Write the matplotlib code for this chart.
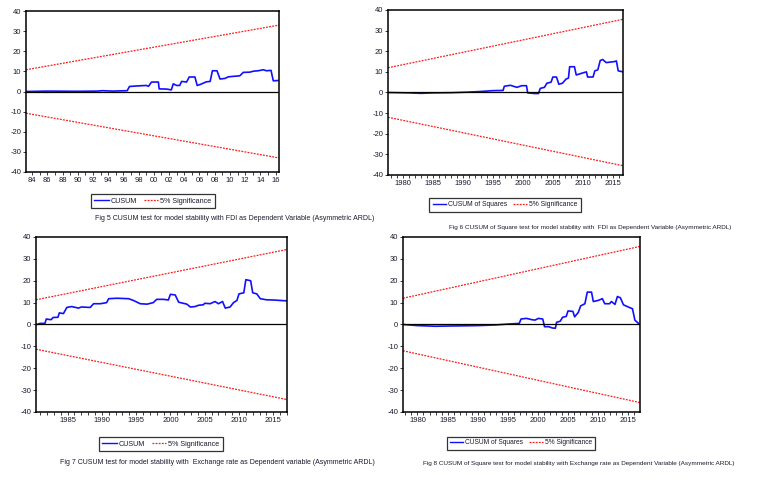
import numpy as np
import matplotlib
matplotlib.use("Agg")
import matplotlib.pyplot as plt
from matplotlib.lines import Line2D
from matplotlib.ticker import MultipleLocator

# --- Fig 5: CUSUM, FDI ---
fig5_years = [1983.2, 1986, 1990, 1992.5, 1993.3, 1994.5, 1996.5, 1996.8, 1998.0, 1999.0,
              1999.3, 1999.7, 2000.6, 2000.7, 2001.7, 2002.3, 2002.55, 2003.0, 2003.4,
              2003.65, 2004.3, 2004.65, 2005.4, 2005.7, 2006.1, 2006.9, 2007.4, 2007.7,
              2008.3, 2008.7, 2009.35, 2009.8, 2011.3, 2011.76, 2012.6, 2013.1, 2013.7,
              2014.4, 2014.8, 2015.4, 2015.7, 2016.5]
fig5_cusum = [0.0, 0.2, 0.1, 0.2, 0.4, 0.2, 0.4, 2.5, 2.8, 3.0,
              2.6, 4.7, 4.7, 1.3, 1.2, 0.8, 3.8, 3.0, 3.0,
              5.0, 4.7, 7.2, 7.2, 3.0, 3.5, 4.8, 5.0, 10.3,
              10.3, 6.2, 6.5, 7.3, 7.8, 9.5, 9.6, 10.1, 10.3,
              10.8, 10.3, 10.5, 5.3, 5.5]
fig5_band = [10.8, 33.0]

# --- Fig 6: CUSUM of Squares, FDI ---
fig6_years = [1977.5, 1981, 1983, 1985, 1988, 1991, 1993, 1995, 1996.7, 1996.9, 1997.9,
              1999.0, 1999.8, 2000.6, 2000.8, 2002.0, 2002.6, 2002.9, 2003.6, 2004.0,
              2004.7, 2005.0, 2005.6, 2006.0, 2006.6, 2007.2, 2007.6, 2007.8, 2008.6,
              2008.9, 2010.0, 2010.6, 2010.8, 2011.7, 2012.0, 2012.5, 2012.9, 2013.3,
              2013.9, 2015.3, 2015.6, 2015.9, 2016.7]
fig6_cusumsq = [0.0, -0.2, -0.4, -0.2, -0.1, 0.2, 0.5, 0.9, 1.0, 3.0, 3.5,
                2.5, 3.3, 3.3, -0.2, -0.5, -0.5, 2.0, 2.5, 4.5,
                5.0, 7.5, 7.5, 4.0, 4.5, 6.5, 7.0, 12.5, 12.5,
                8.5, 9.5, 10.0, 7.5, 7.5, 10.5, 11.0, 15.5, 16.0,
                14.5, 15.0, 15.3, 10.5, 10.0]
fig6_band = [12.0, 35.5]

# --- Fig 7: CUSUM, Exchange rate ---
fig7_years = [1980.5, 1981.0, 1981.7, 1981.9, 1982.6, 1982.9, 1983.6, 1983.8, 1984.4,
              1984.9, 1985.6, 1986.6, 1987.0, 1988.3, 1988.8, 1989.8, 1990.7, 1991.0,
              1992.2, 1993.9, 1994.6, 1995.6, 1996.6, 1997.5, 1998.0, 1999.0, 1999.7,
              2000.0, 2000.7, 2001.2, 2002.4, 2002.9, 2003.6, 2004.1, 2004.8, 2005.0,
              2005.8, 2006.5, 2007.0, 2007.6, 2008.0, 2008.7, 2009.2, 2009.7, 2010.0,
              2010.7, 2011.0, 2011.7, 2012.0, 2012.6, 2013.1, 2014.0, 2015.0, 2016.0, 2017.0]
fig7_cusum = [0.0, 0.5, 0.5, 2.5, 2.2, 3.2, 3.3, 5.3, 5.0,
              7.8, 8.2, 7.5, 8.0, 7.8, 9.5, 9.5, 10.0, 11.8,
              12.0, 11.8, 11.0, 9.5, 9.3, 10.0, 11.5, 11.5, 11.2,
              13.8, 13.5, 10.2, 9.3, 8.0, 8.2, 8.8, 9.0, 9.7,
              9.5, 10.5, 9.5, 10.5, 7.5, 8.0, 10.0, 11.0, 14.0,
              14.5, 20.5, 20.0, 14.5, 14.0, 11.8, 11.3, 11.2, 11.0, 10.8]
fig7_band = [11.3, 34.3]

# --- Fig 8: CUSUM of Squares, Exchange rate ---
fig8_years = [1977.6, 1980, 1983, 1985, 1990, 1993, 1995, 1996.9, 1997.2, 1998.1, 1999.0,
              1999.5, 2000.1, 2000.8, 2001.1, 2001.8, 2002.4, 2002.9, 2003.1, 2003.7,
              2004.1, 2004.7, 2005.0, 2005.8, 2006.1, 2006.7, 2007.1, 2007.8, 2008.2,
              2008.9, 2009.2, 2010.0, 2010.7, 2011.1, 2011.9, 2012.2, 2012.8, 2013.2,
              2013.7, 2014.2, 2015.0, 2015.7, 2016.1, 2016.7, 2016.9]
fig8_cusumsq = [0.0, -0.5, -0.8, -0.7, -0.5, -0.2, 0.2, 0.5, 2.5, 2.8, 2.2,
                2.0, 2.8, 2.5, -1.0, -1.0, -1.6, -1.7, 1.0, 1.5,
                3.3, 3.7, 6.2, 6.0, 3.5, 5.5, 8.5, 9.5, 14.8,
                14.8, 10.5, 11.0, 11.8, 9.5, 9.5, 10.5, 9.2, 12.8,
                12.2, 9.0, 8.0, 7.2, 2.0, 0.5, 0.0]
fig8_band = [12.0, 35.7]

captions = [
    "Fig 5 CUSUM test for model stability with FDI as Dependent Variable (Asymmetric ARDL)",
    "Fig 6 CUSUM of Square test for model stability with  FDI as Dependent Variable (Asymmetric ARDL)",
    "Fig 7 CUSUM test for model stability with  Exchange rate as Dependent variable (Asymmetric ARDL)",
    "Fig 8 CUSUM of Square test for model stability with Exchange rate as Dependent Variable (Asymmetric ARDL)",
]

W, H = 766, 480
plt.rcParams['font.family'] = ['Liberation Sans', 'DejaVu Sans']
plt.rcParams['axes.unicode_minus'] = False
fig = plt.figure(figsize=(W / 100, H / 100), dpi=100)
txt = '#1a1a2e'
blue = '#1010ff'
red = '#ff1a1a'
dots = (0, (1.5, 1))


def box(x0, y0, x1, y1):
    # pixel box (top-left origin) -> figure fraction rect
    return [x0 / W, 1 - y1 / H, (x1 - x0) / W, (y1 - y0) / H]


def panel(rect, years, vals, band, xlim, short_ticks):
    ax = fig.add_axes(rect)
    ax.plot(years, vals, color=blue, lw=1.2)
    ax.plot(xlim, band, color=red, lw=0.9, ls=dots)
    ax.plot(xlim, [-band[0], -band[1]], color=red, lw=0.9, ls=dots)
    ax.axhline(0, color='black', lw=0.9)
    ax.set_xlim(xlim)
    ax.set_ylim(-40, 40)
    ax.set_yticks(np.arange(-40, 41, 10))
    if short_ticks:
        major = list(range(1984, 2017, 2))
        ax.set_xticks(major)
        ax.set_xticklabels(["%02d" % (y % 100) for y in major])
    else:
        major = [y for y in range(1980, 2016, 5) if y > xlim[0]]
        ax.set_xticks(major)
    ax.xaxis.set_minor_locator(MultipleLocator(1))
    ax.tick_params(axis='both', which='both', direction='out', labelsize=5.5,
                   colors=txt, length=2, width=0.6, pad=1.5)
    for s in ax.spines.values():
        s.set_linewidth(1.1)
    return ax


panel(box(26, 11, 279, 172), fig5_years, fig5_cusum, fig5_band, [1983.2, 2016.45], True)
panel(box(388, 10, 623, 175), fig6_years, fig6_cusumsq, fig6_band, [1977.5, 2016.7], False)
panel(box(36, 237, 287, 412), fig7_years, fig7_cusum, fig7_band, [1980.4, 2017.0], False)
panel(box(403, 237, 640, 412), fig8_years, fig8_cusumsq, fig8_band, [1977.6, 2016.95], False)


def legend(cx, cy, label, size):
    handles = [Line2D([], [], color=blue, lw=1.0),
               Line2D([], [], color=red, lw=0.9, ls=dots)]
    lg = fig.legend(handles, [label, '5% Significance'], loc='center',
                    bbox_to_anchor=(cx / W, 1 - cy / H), ncol=2, fontsize=size,
                    frameon=True, fancybox=False, edgecolor='black',
                    handlelength=2.0, handletextpad=0.3, columnspacing=0.9,
                    borderpad=0.45)
    lg.get_frame().set_linewidth(0.9)
    for t in lg.get_texts():
        t.set_color(txt)


legend(153, 201, 'CUSUM', 5.2)
legend(505, 205, 'CUSUM of Squares', 4.9)
legend(161, 444, 'CUSUM', 5.2)
legend(521, 443, 'CUSUM of Squares', 4.8)

fig.text(235 / W, 1 - 218 / H, captions[0], ha='center', va='center', fontsize=5.0, color=txt)
fig.text(590 / W, 1 - 227 / H, captions[1], ha='center', va='center', fontsize=4.6, color=txt)
fig.text(217 / W, 1 - 462 / H, captions[2], ha='center', va='center', fontsize=5.0, color=txt)
fig.text(579 / W, 1 - 464 / H, captions[3], ha='center', va='center', fontsize=4.6, color=txt)

fig.savefig('out.png', dpi=100)
